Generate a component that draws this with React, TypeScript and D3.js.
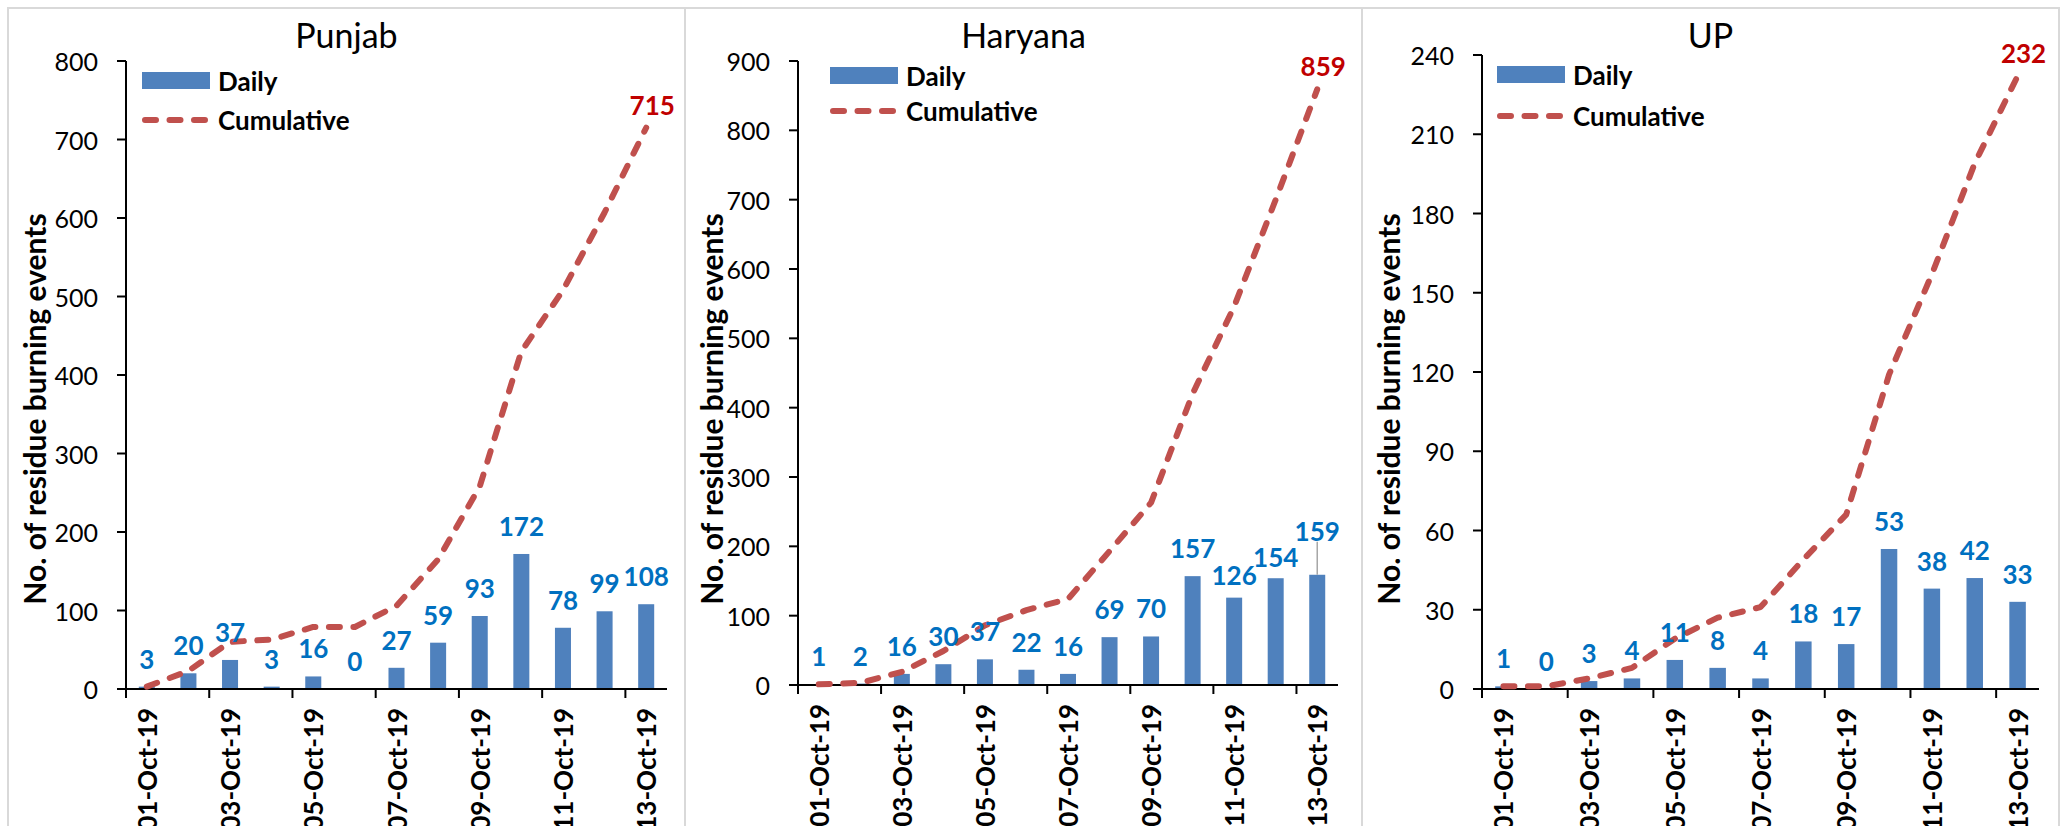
import React from "react";
import * as d3 from "d3";

// ---------- data ----------
const dates = [
  "01-Oct-19", "02-Oct-19", "03-Oct-19", "04-Oct-19", "05-Oct-19", "06-Oct-19", "07-Oct-19",
  "08-Oct-19", "09-Oct-19", "10-Oct-19", "11-Oct-19", "12-Oct-19", "13-Oct-19",
];

const punjabDaily = [3, 20, 37, 3, 16, 0, 27, 59, 93, 172, 78, 99, 108];
const punjabCumulative = [3, 23, 60, 63, 79, 79, 106, 165, 258, 430, 508, 607, 715];
const punjabTicks = [0, 100, 200, 300, 400, 500, 600, 700, 800];

const haryanaDaily = [1, 2, 16, 30, 37, 22, 16, 69, 70, 157, 126, 154, 159];
const haryanaCumulative = [1, 3, 19, 49, 86, 108, 124, 193, 263, 420, 546, 700, 859];
const haryanaTicks = [0, 100, 200, 300, 400, 500, 600, 700, 800, 900];

const upDaily = [1, 0, 3, 4, 11, 8, 4, 18, 17, 53, 38, 42, 33];
const upCumulative = [1, 1, 4, 8, 19, 27, 31, 49, 66, 119, 157, 199, 232];
const upTicks = [0, 30, 60, 90, 120, 150, 180, 210, 240];

const titles = ["Punjab", "Haryana", "UP"];
const legendLabels = ["Daily", "Cumulative"];
const yTitle = "No. of residue burning events";

// ---------- layout / style ----------
const W = 2067;
const H = 826;
const FONT = "Lato, 'Open Sans', sans-serif";
const BAR = "#4F81BD";
const LINE = "#C0504D";
const BAR_LABEL = "#0070C0";
const CUM_LABEL = "#C00000";

type Cfg = {
  title: string;
  daily: number[];
  cumulative: number[];
  ticks: number[];
  left: number;
  right: number;
  axisX: number;
  axisEnd: number;
  y0: number;
  yTop: number;
  legRectY: number;
  legLineY: number;
  legX: number;
  nudge: Record<number, number>;
  leader: number[];
};

const panels: Cfg[] = [
  {
    title: titles[0], daily: punjabDaily, cumulative: punjabCumulative, ticks: punjabTicks,
    left: 8, right: 685, axisX: 126, axisEnd: 667, y0: 689, yTop: 61,
    legRectY: 72, legLineY: 120, legX: 142, nudge: {}, leader: [],
  },
  {
    title: titles[1], daily: haryanaDaily, cumulative: haryanaCumulative, ticks: haryanaTicks,
    left: 685, right: 1362, axisX: 798, axisEnd: 1338, y0: 685, yTop: 61,
    legRectY: 67, legLineY: 111, legX: 830, nudge: { 10: 5, 11: 7, 12: -16 }, leader: [12],
  },
  {
    title: titles[2], daily: upDaily, cumulative: upCumulative, ticks: upTicks,
    left: 1362, right: 2059, axisX: 1482, axisEnd: 2039, y0: 689, yTop: 55,
    legRectY: 66, legLineY: 116, legX: 1497, nudge: {}, leader: [],
  },
];

function Panel({ cfg }: { cfg: Cfg }) {
  const x = d3
    .scaleBand<string>()
    .domain(dates)
    .range([cfg.axisX, cfg.axisEnd])
    .paddingInner(0.615)
    .paddingOuter(0.3075);
  const yMax = cfg.ticks[cfg.ticks.length - 1];
  const y = d3.scaleLinear().domain([0, yMax]).range([cfg.y0, cfg.yTop]);
  const bw = x.bandwidth();
  const step = x.step();
  const cx = (d: string) => (x(d) as number) + bw / 2;
  const boundary = (i: number) => (x(dates[i]) as number) - (step - bw) / 2;

  const line = d3
    .line<number>()
    .x((_, i) => cx(dates[i]))
    .y((v) => y(v));

  const lastI = dates.length - 1;
  const midY = 409;
  const titleX = (cfg.left + cfg.right) / 2;

  return (
    <g>
      <rect
        x={cfg.left}
        y={8}
        width={cfg.right - cfg.left}
        height={900}
        fill="#fff"
        stroke="#D9D9D9"
        strokeWidth={2}
      />
      {/* title */}
      <text x={titleX} y={48} textAnchor="middle" fontFamily={FONT} fontSize={34} fill="#000">
        {cfg.title}
      </text>
      {/* y axis title */}
      <text
        transform={`translate(${cfg.left + 26},${midY}) rotate(-90)`}
        textAnchor="middle"
        dominantBaseline="central"
        fontFamily={FONT}
        fontWeight="bold"
        fontSize={30}
        fill="#000"
      >
        {yTitle}
      </text>
      {/* bars */}
      {cfg.daily.map((v, i) => (
        <rect
          key={"b" + i}
          x={x(dates[i]) as number}
          y={y(v)}
          width={bw}
          height={cfg.y0 - y(v)}
          fill={BAR}
        />
      ))}
      {/* y axis */}
      <line x1={cfg.axisX} x2={cfg.axisX} y1={cfg.yTop} y2={cfg.y0 + 9} stroke="#000" strokeWidth={2} />
      {cfg.ticks.map((t) => (
        <g key={"t" + t}>
          <line x1={cfg.axisX - 9} x2={cfg.axisX} y1={y(t)} y2={y(t)} stroke="#000" strokeWidth={2} />
          <text
            x={cfg.axisX - 28}
            y={y(t)}
            textAnchor="end"
            dominantBaseline="central"
            fontFamily={FONT}
            fontSize={25}
            fill="#000"
          >
            {t}
          </text>
        </g>
      ))}
      {/* x axis */}
      <line x1={cfg.axisX} x2={cfg.axisEnd} y1={cfg.y0} y2={cfg.y0} stroke="#000" strokeWidth={2} />
      {dates.map((d, i) =>
        i % 2 === 0 ? (
          <g key={"x" + i}>
            <line
              x1={boundary(i)}
              x2={boundary(i)}
              y1={cfg.y0}
              y2={cfg.y0 + 9}
              stroke="#000"
              strokeWidth={2}
            />
            <text
              transform={`translate(${cx(d)},${cfg.y0 + 19}) rotate(-90)`}
              textAnchor="end"
              dominantBaseline="central"
              fontFamily={FONT}
              fontWeight="bold"
              fontSize={26}
              fill="#000"
            >
              {d}
            </text>
          </g>
        ) : null
      )}
      {/* cumulative line */}
      <path
        d={line(cfg.cumulative) || ""}
        fill="none"
        stroke={LINE}
        strokeWidth={6}
        strokeDasharray="11 13.5"
        strokeLinecap="round"
        strokeLinejoin="round"
      />
      {/* bar labels */}
      {cfg.daily.map((v, i) => {
        const ly = y(v) - 28 + (cfg.nudge[i] || 0);
        return (
          <g key={"l" + i}>
            {cfg.leader.includes(i) ? (
              <line x1={cx(dates[i])} x2={cx(dates[i])} y1={ly + 11} y2={y(v)} stroke="#A6A6A6" strokeWidth={1.5} />
            ) : null}
            <text
              x={cx(dates[i])}
              y={ly}
              textAnchor="middle"
              dominantBaseline="central"
              fontFamily={FONT}
              fontWeight="bold"
              fontSize={26}
              fill={BAR_LABEL}
            >
              {v}
            </text>
          </g>
        );
      })}
      {/* cumulative end label */}
      <text
        x={cx(dates[lastI]) + 6}
        y={y(cfg.cumulative[lastI]) - 23}
        textAnchor="middle"
        dominantBaseline="central"
        fontFamily={FONT}
        fontWeight="bold"
        fontSize={26}
        fill={CUM_LABEL}
      >
        {cfg.cumulative[lastI]}
      </text>
      {/* legend */}
      <rect x={cfg.legX} y={cfg.legRectY} width={68} height={17} fill={BAR} />
      <text
        x={cfg.legX + 76}
        y={cfg.legRectY + 8.5}
        dominantBaseline="central"
        fontFamily={FONT}
        fontWeight="bold"
        fontSize={26}
        fill="#000"
      >
        {legendLabels[0]}
      </text>
      <line
        x1={cfg.legX + 3}
        x2={cfg.legX + 65}
        y1={cfg.legLineY}
        y2={cfg.legLineY}
        stroke={LINE}
        strokeWidth={6}
        strokeDasharray="11 13.5"
        strokeLinecap="round"
      />
      <text
        x={cfg.legX + 76}
        y={cfg.legLineY}
        dominantBaseline="central"
        fontFamily={FONT}
        fontWeight="bold"
        fontSize={26}
        fill="#000"
      >
        {legendLabels[1]}
      </text>
    </g>
  );
}

export default function App() {
  return (
    <svg
      width={W}
      height={H}
      viewBox={`0 0 ${W} ${H}`}
      style={{ position: "absolute", left: 0, top: 0, background: "#fff" }}
    >
      <rect x={0} y={0} width={W} height={H} fill="#fff" />
      {panels.map((p) => (
        <Panel key={p.title} cfg={p} />
      ))}
    </svg>
  );
}
